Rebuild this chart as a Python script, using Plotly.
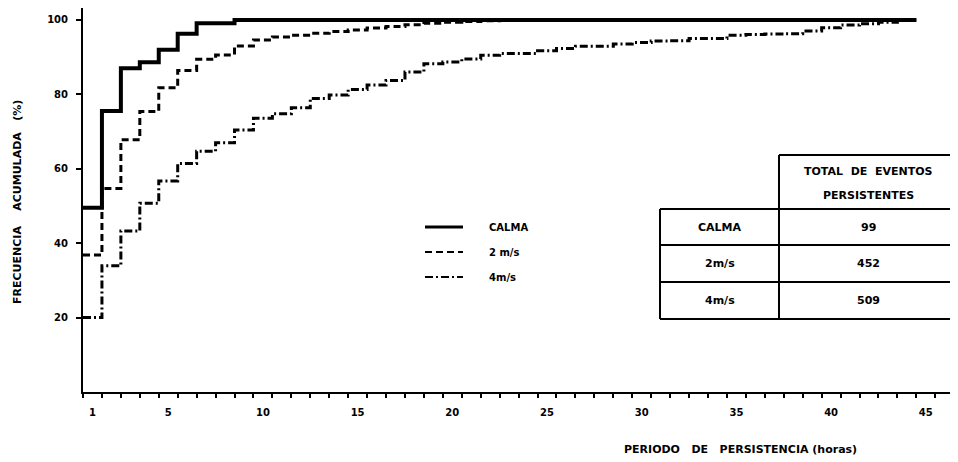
import plotly.graph_objects as go

# ---------------- data ----------------
hours = list(range(1, 45))
calma = [49.5, 75.5, 87.0, 88.6, 92.0, 96.3, 99.1, 99.1, 100.0, 100.0,
         100.0, 100.0, 100.0, 100.0, 100.0, 100.0, 100.0, 100.0, 100.0, 100.0,
         100.0, 100.0, 100.0, 100.0, 100.0, 100.0, 100.0, 100.0, 100.0, 100.0,
         100.0, 100.0, 100.0, 100.0, 100.0, 100.0, 100.0, 100.0, 100.0, 100.0,
         100.0, 100.0, 100.0, 100.0]
v2ms = [36.8, 54.7, 67.8, 75.4, 81.8, 86.4, 89.4, 90.6, 93.0, 94.6,
        95.4, 95.9, 96.4, 96.9, 97.3, 97.8, 98.2, 98.7, 99.1, 99.4,
        99.6, 99.8, 100.0, 100.0, 100.0, 100.0, 100.0, 100.0, 100.0, 100.0,
        100.0, 100.0, 100.0, 100.0, 100.0, 100.0, 100.0, 100.0, 100.0, 100.0,
        100.0, 100.0, 100.0, 100.0]
v4ms = [20.0, 33.9, 43.3, 50.7, 56.7, 61.4, 64.7, 67.0, 70.4, 73.6,
        74.8, 76.4, 78.9, 79.8, 81.3, 82.5, 83.7, 86.0, 88.2, 88.7,
        89.5, 90.5, 91.0, 91.0, 91.7, 92.3, 92.9, 92.9, 93.5, 93.9,
        94.3, 94.4, 95.0, 95.0, 95.9, 96.1, 96.2, 96.3, 97.0, 97.9,
        98.6, 99.0, 99.4, 99.9]
series_names = ["CALMA", "2 m/s", "4m/s"]

x_tickvals = [1, 5, 10, 15, 20, 25, 30, 35, 40, 45]
x_ticktext = ["1", "5", "10", "15", "20", "25", "30", "35", "40", "45"]
y_tickvals = [20, 40, 60, 80, 100]
y_ticktext = ["20", "40", "60", "80", "100"]

table_header = ["TOTAL\u00a0\u00a0DE\u00a0\u00a0EVENTOS", "PERSISTENTES"]
table_labels = ["CALMA", "2m/s", "4m/s"]
table_totals = ["99", "452", "509"]

x_title = "PERIODO\u00a0\u00a0\u00a0DE\u00a0\u00a0\u00a0PERSISTENCIA\u00a0(horas)"
y_title = "FRECUENCIA\u00a0\u00a0\u00a0\u00a0ACUMULADA\u00a0\u00a0\u00a0(%)"

# ---------------- figure ----------------
# the page body adds an 8px margin, so the figure is 8px smaller than the window
W, H = 950, 454
ML, MR, MT, MB = 75, 0, 0, 70
PW, PH = W - ML - MR, H - MT - MB


def px_x(p):  # window pixel -> paper
    return (p - 8 - ML) / PW


def px_y(p):
    return (H - MB - (p - 8)) / PH


def steps(h, v):
    xs = [x - 0.5 for x in h] + [h[-1] + 0.5]
    ys = list(v) + [v[-1]]
    return xs, ys


styles = [dict(width=4, dash="solid"),
          dict(width=3, dash="7px,4px"),
          dict(width=3, dash="8px,3px,2px,3px")]

fig = go.Figure()
for name, vals, st in zip(series_names, [calma, v2ms, v4ms], styles):
    xs, ys = steps(hours, vals)
    fig.add_trace(go.Scatter(x=xs, y=ys, mode="lines", name=name,
                             showlegend=False,
                             line=dict(color="black", shape="hv", **st)))

tfont = dict(family="DejaVu Sans", size=11, color="black", weight="bold")
common = dict(showarrow=False, xref="paper", yref="paper",
              xanchor="center", yanchor="middle", font=tfont)

shapes = []
ann = []

# legend (drawn by hand)
legend_rows = [227, 252, 277]
for name, st, yy in zip(series_names, styles, legend_rows):
    shapes.append(dict(type="line", xref="paper", yref="paper",
                       x0=px_x(425), x1=px_x(463), y0=px_y(yy), y1=px_y(yy),
                       line=dict(color="black", width=st["width"] - 1, dash=st["dash"])))
    ann.append(dict(common, x=px_x(487), y=px_y(yy), text=name, xanchor="left",
                    font=dict(tfont, size=10)))

# table
L, M, R = 660, 779, 962
TOP, HB = 155, 209
row_bottoms = [245, 282, 319]
tbl = []
tbl.append(dict(x0=px_x(M), x1=px_x(R), y0=px_y(TOP), y1=px_y(TOP)))
tbl.append(dict(x0=px_x(M), x1=px_x(M), y0=px_y(TOP), y1=px_y(row_bottoms[-1])))
tbl.append(dict(x0=px_x(L), x1=px_x(R), y0=px_y(HB), y1=px_y(HB)))
tbl.append(dict(x0=px_x(L), x1=px_x(L), y0=px_y(HB), y1=px_y(row_bottoms[-1])))
for rb in row_bottoms:
    tbl.append(dict(x0=px_x(L), x1=px_x(R), y0=px_y(rb), y1=px_y(rb)))
for s in tbl:
    s.update(type="line", xref="paper", yref="paper", line=dict(color="black", width=2))
shapes += tbl

for i, t in enumerate(table_header):
    ann.append(dict(common, x=px_x((M + 958) / 2), y=px_y([171, 195][i]), text=t))
tops = [HB] + row_bottoms[:-1]
for lab, tot, t0, t1 in zip(table_labels, table_totals, tops, row_bottoms):
    yc = px_y((t0 + t1) / 2)
    ann.append(dict(common, x=px_x((L + M) / 2), y=yc, text=lab))
    ann.append(dict(common, x=px_x((M + 958) / 2), y=yc, text=tot))

ann.append(dict(common, x=px_x(740), y=px_y(449), text=x_title))
ann.append(dict(common, x=px_x(18), y=px_y(202), text=y_title, textangle=-90))

fig.update_layout(
    width=W, height=H,
    margin=dict(l=ML, r=MR, t=MT, b=MB, autoexpand=False),
    plot_bgcolor="white", paper_bgcolor="white",
    font=dict(family="DejaVu Sans", size=10, color="black", weight="bold"),
    showlegend=False,
    shapes=shapes, annotations=ann,
    xaxis=dict(range=[0.5, 46.7], showline=True, linewidth=2, linecolor="black",
               tickmode="array", tickvals=x_tickvals, ticktext=x_ticktext,
               ticks="", showgrid=False, zeroline=False, ticklabelstandoff=10,
               automargin=False, tickfont=dict(size=10, weight="bold"),
               minor=dict(tickmode="linear", tick0=0.5, dtick=1, ticks="outside",
                          ticklen=4, tickwidth=2, tickcolor="black", showgrid=False)),
    yaxis=dict(range=[0, 103.2], showline=True, linewidth=2, linecolor="black",
               tickmode="array", tickvals=y_tickvals, ticktext=y_ticktext,
               ticks="outside", ticklen=5, tickwidth=2, tickcolor="black",
               showgrid=False, zeroline=False, ticklabelstandoff=6,
               automargin=False, tickfont=dict(size=10, weight="bold")),
)

fig.write_html("out.html")
